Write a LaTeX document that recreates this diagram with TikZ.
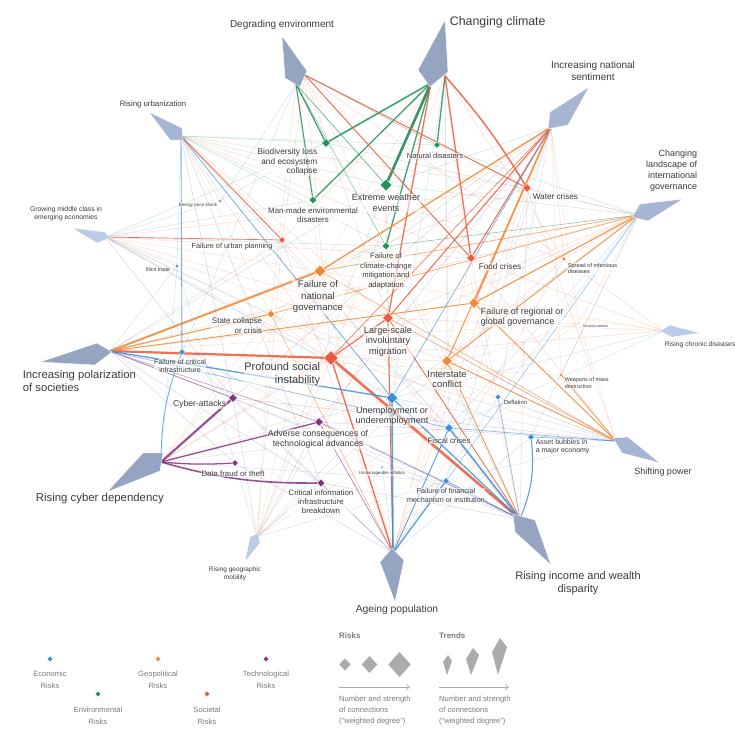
\documentclass[tikz,border=0pt]{standalone}
\usepackage{fontspec}
\setmainfont{Liberation Sans}
\usetikzlibrary{shapes.geometric,arrows.meta}
\definecolor{eco}{HTML}{3B8FD8}
\definecolor{env}{HTML}{22925A}
\definecolor{envd}{HTML}{1B7F4C}
\definecolor{geo}{HTML}{F08A38}
\definecolor{soc}{HTML}{EA5A3C}
\definecolor{tec}{HTML}{86337F}
\definecolor{trA}{HTML}{95A4C1}
\definecolor{trB}{HTML}{A5B5D2}
\definecolor{trC}{HTML}{B9CBE7}
\definecolor{txt}{HTML}{3C3C3C}
\definecolor{leg}{HTML}{7A7A7A}
\definecolor{legshape}{HTML}{ABABAB}
\pgfdeclarelayer{bg}
\pgfsetlayers{bg,main}
\newcommand\fsz[2]{\fontsize{#1}{#2}\selectfont}
\tikzset{
  risk/.style={diamond, draw=white, line width=0.4pt, inner sep=0pt, minimum size=#1},
  lbl/.style={text=txt, inner sep=0.6pt, fill=white, fill opacity=0.55, text opacity=1},
  kite/.style={draw=white, line width=0.4pt},
  legtxt/.style={text=leg, inner sep=0pt},
  fsoc/.style={soc, draw opacity=0.2, line width=0.6pt},
  fgeo/.style={geo, draw opacity=0.2, line width=0.6pt},
  feco/.style={eco, draw opacity=0.2, line width=0.6pt},
  fenv/.style={env, draw opacity=0.2, line width=0.6pt},
  ftec/.style={tec, draw opacity=0.2, line width=0.6pt},
  sl/.style={line width=#1, draw opacity=0.85, line cap=round},
}
\begin{document}
\begin{tikzpicture}[x=1pt,y=-1pt]
\useasboundingbox (0,0) rectangle (735,739);
% ---------- trend hubs ----------
\coordinate (DE) at (296,84);
\coordinate (DEr) at (305,75);
\coordinate (CC) at (431,83);
\coordinate (CCr) at (445,76);
\coordinate (NS) at (551,127);
\coordinate (CL) at (638,215);
\coordinate (RU) at (181,136);
\coordinate (GM) at (105,237);
\coordinate (IP) at (110,351);
\coordinate (CD) at (161,462);
\coordinate (GEO) at (257,537);
\coordinate (AP) at (393,553);
\coordinate (RI) at (520,519);
\coordinate (SP) at (616,441);
\coordinate (RC) at (664,331);
% ---------- risks ----------
\node[risk=9, fill=env] (BL) at (326,143) {};
\node[risk=7, fill=env] (ND) at (437,145) {};
\node[risk=12, fill=env] (EW) at (386,185) {};
\node[risk=8, fill=env] (MM) at (313,200) {};
\node[risk=3.5, fill=eco] (EPS) at (220,201) {};
\node[risk=9, fill=soc] (WC) at (527,188) {};
\node[risk=7, fill=soc] (FUP) at (282,240) {};
\node[risk=8, fill=env] (FC) at (386,246) {};
\node[risk=9, fill=soc] (FO) at (471,258) {};
\node[risk=4, fill=soc] (SID) at (564,259) {};
\node[risk=4, fill=eco] (IT) at (177,266) {};
\node[risk=12, fill=geo] (FNG) at (320,271) {};
\node[risk=11, fill=geo] (FR) at (474,303) {};
\node[risk=2.5, fill=geo] (TA) at (579,323) {};
\node[risk=8, fill=geo] (SC) at (271,314) {};
\node[risk=11, fill=soc] (LM) at (388,318) {};
\node[risk=7, fill=eco] (FCI) at (182,352) {};
\node[risk=15, fill=soc] (PSI) at (331,358) {};
\node[risk=11, fill=geo] (IC) at (447,361) {};
\node[risk=4, fill=geo] (WMD) at (561,375) {};
\node[risk=9, fill=tec] (CA) at (233,398) {};
\node[risk=12, fill=eco] (UE) at (392,398) {};
\node[risk=6, fill=eco] (DEF) at (498,397) {};
\node[risk=9, fill=tec] (AC) at (319,422) {};
\node[risk=9, fill=eco] (FI) at (449,428) {};
\node[risk=7, fill=eco] (AB) at (531,437) {};
\node[risk=7, fill=tec] (DF) at (235,463) {};
\node[risk=3, fill=eco] (UI) at (382,467) {};
\node[risk=8, fill=tec] (CI) at (321,483) {};
\node[risk=7, fill=eco] (FFM) at (446,481) {};
% ---------- connectors ----------
\begin{pgfonlayer}{bg}
% faint web
\foreach \a/\b in {DEr/FUP,DEr/LM,DEr/PSI,DEr/SID,CCr/PSI,CCr/SID,CC/FUP,NS/PSI,NS/WC,NS/SID,CL/WC,CL/FO,CL/LM,CL/PSI,CL/SID,RU/PSI,RU/LM,RU/WC,RU/FO,RU/SID,GM/PSI,GM/WC,GM/FO,GM/LM,IP/LM,IP/FO,IP/WC,IP/FUP,CD/PSI,CD/LM,GEO/PSI,GEO/LM,GEO/SID,GEO/FUP,AP/LM,AP/FO,AP/WC,AP/SID,AP/FUP,RI/FO,RI/WC,RI/FUP,SP/PSI,SP/FO,SP/WC,RC/FO,RC/SID,RC/PSI,RC/LM}
  \draw[fsoc] (\a) -- (\b);
\foreach \a/\b in {DE/FNG,DE/SC,DEr/IC,CC/FNG,CCr/FR,CCr/IC,NS/SC,NS/WMD,NS/TA,CL/FNG,CL/SC,CL/WMD,CL/TA,RU/FNG,RU/SC,GM/FNG,GM/SC,GM/IC,IP/IC,IP/TA,IP/WMD,CD/FNG,CD/SC,CD/TA,GEO/FNG,GEO/SC,GEO/TA,AP/FNG,AP/FR,AP/IC,RI/FNG,RI/FR,RI/SC,SP/SC,SP/TA,RC/FR,RC/FNG}
  \draw[fgeo] (\a) -- (\b);
\foreach \a/\b in {RU/EPS,RU/IT,RU/FI,GM/UE,GM/FI,GM/AB,GM/EPS,GM/IT,IP/FFM,IP/IT,CD/UE,CD/FFM,CD/FI,CD/IT,GEO/UE,GEO/FFM,GEO/IT,AP/DEF,AP/AB,AP/UI,AP/FCI,RI/UI,RI/FCI,SP/UE,SP/DEF,SP/FFM,CL/DEF,CL/FI,CL/AB,CL/UE,NS/FI,NS/FFM,NS/DEF,RC/UE,RC/FI,CCr/UE,CCr/FI,CC/EPS,DE/EPS,DE/FCI}
  \draw[feco] (\a) -- (\b);
\foreach \a/\b in {RU/BL,RU/MM,RU/EW,RU/FC,RU/ND,GM/BL,GM/MM,GM/FC,IP/FC,IP/EW,CL/EW,CL/ND,CL/BL,NS/FC,NS/EW,AP/FC,AP/EW,RI/FC,GEO/EW}
  \draw[fenv] (\a) -- (\b);
\foreach \a/\b in {AP/CA,AP/CI,AP/DF,RI/CA,RI/CI,IP/DF,IP/CI,GEO/CI,GEO/AC,GEO/CA,SP/AC,SP/CA,NS/CA,NS/AC,RU/CA,RU/CI,GM/CA}
  \draw[ftec] (\a) -- (\b);
% environmental
\draw[envd, sl=2.6] (CC) -- (EW);
\draw[env, sl=1.6] (CC) -- (BL);
\draw[env, sl=1.3] (CC) -- (MM);
\draw[env, sl=1.3] (CCr) -- (ND);
\draw[env, sl=1.3] (CC) -- (FC);
\draw[env, sl=1.3] (DE) -- (BL);
\draw[env, sl=1.1] (DE) -- (MM);
\draw[env, sl=0.9, draw opacity=0.55] (DE) -- (EW);
\draw[env, sl=0.7, draw opacity=0.45] (DE) -- (FC);
\draw[env, sl=0.6, draw opacity=0.4] (DEr) -- (ND);
\draw[env, sl=0.7, draw opacity=0.45] (CL) -- (FC);
% societal
\draw[soc, sl=1.5] (CCr) to[bend left=5] (WC);
\draw[soc, sl=1.3] (CCr) -- (FO);
\draw[soc, sl=1.3] (CC) -- (LM);
\draw[soc, sl=1.0] (DEr) -- (WC);
\draw[soc, sl=1.0] (DEr) -- (FO);
\draw[soc, sl=1.1] (NS) -- (FO);
\draw[soc, sl=1.1] (NS) -- (LM);
\draw[soc, sl=0.8, draw opacity=0.6] (NS) -- (PSI);
\draw[soc, sl=2.2] (IP) -- (PSI);
\draw[soc, sl=2.6] (PSI) -- (RI);
\draw[soc, sl=1.4] (AP) -- (PSI);
\draw[soc, sl=1.0] (AP) -- (LM);
\draw[soc, sl=1.2] (PSI) -- (LM);
\draw[soc, sl=0.9] (RU) -- (FUP);
\draw[soc, sl=0.7] (GM) -- (FUP);
\draw[soc, sl=0.9] (LM) -- (RI);
\draw[soc, sl=0.6, draw opacity=0.6] (SP) -- (LM);
% geopolitical
\draw[geo, sl=2.0] (IP) -- (FNG);
\draw[geo, sl=1.1] (IP) -- (SC);
\draw[geo, sl=1.0] (IP) -- (FR);
\draw[geo, sl=1.4] (NS) -- (FNG);
\draw[geo, sl=1.4] (NS) -- (FR);
\draw[geo, sl=1.1] (NS) -- (IC);
\draw[geo, sl=1.2] (CL) -- (FR);
\draw[geo, sl=1.0] (CL) -- (IC);
\draw[geo, sl=0.8, draw opacity=0.6] (CL) -- (SC);
\draw[geo, sl=0.8, draw opacity=0.6] (CL) -- (FNG);
\draw[geo, sl=1.0] (SP) -- (IC);
\draw[geo, sl=1.0] (SP) -- (FR);
\draw[geo, sl=0.8] (SP) -- (WMD);
\draw[geo, sl=0.7, draw opacity=0.6] (SP) -- (FNG);
\draw[geo, sl=0.9] (RI) -- (IC);
\draw[geo, sl=0.6, draw opacity=0.6] (AP) -- (SC);
% technological
\draw[tec, sl=2.2] (CD) -- (CA);
\draw[tec, sl=1.3] (CD) -- (AC);
\draw[tec, sl=1.3] (CD) to[bend right=4] (DF);
\draw[tec, sl=1.6] (CD) to[bend right=8] (CI);
\draw[tec, sl=0.7, draw opacity=0.6] (IP) -- (CA);
\draw[tec, sl=0.6, draw opacity=0.5] (IP) -- (AC);
\draw[tec, sl=0.7, draw opacity=0.6] (RI) -- (AC);
\draw[tec, sl=0.7, draw opacity=0.6] (AP) -- (AC);
% economic
\draw[eco, sl=1.3] (IP) -- (UE);
\draw[eco, sl=0.7, draw opacity=0.6] (IP) -- (FI);
\draw[eco, sl=0.9, draw opacity=0.7] (RU) -- (FCI);
\draw[eco, sl=0.8, draw opacity=0.7] (RU) -- (UE);
\draw[eco, sl=0.9, draw opacity=0.7] (CD) to[bend left=10] (FCI);
\draw[eco, sl=1.6] (AP) -- (UE);
\draw[eco, sl=1.3] (AP) -- (FFM);
\draw[eco, sl=0.9] (AP) -- (FI);
\draw[eco, sl=1.6] (RI) -- (FI);
\draw[eco, sl=1.2] (RI) -- (UE);
\draw[eco, sl=1.1] (RI) to[bend right=14] (AB);
\draw[eco, sl=0.8] (RI) -- (FFM);
\draw[eco, sl=0.6, draw opacity=0.6] (RI) -- (DEF);
\draw[eco, sl=0.7, draw opacity=0.6] (SP) -- (AB);
\draw[eco, sl=0.7, draw opacity=0.6] (SP) -- (FI);
\draw[eco, sl=0.8, draw opacity=0.6] (NS) -- (UE);
\draw[eco, sl=0.6, draw opacity=0.5] (CL) -- (FFM);
\end{pgfonlayer}
% ---------- trend kites ----------
\fill[trA, kite] (282,36) -- (307,71) -- (300,87) -- (285,78) -- cycle;
\fill[trA, kite] (445,20) -- (448,72) -- (430,87) -- (418,70) -- cycle;
\fill[trB, kite] (589,87) -- (568,125) -- (548,129) -- (550,112) -- cycle;
\fill[trB, kite] (683,199) -- (648,221) -- (632,217) -- (640,204) -- cycle;
\fill[trB, kite] (149,112) -- (182,128) -- (183,140) -- (170,140) -- cycle;
\fill[trC, kite] (72,228) -- (105,232) -- (110,238) -- (97,243) -- cycle;
\fill[trA, kite] (40,362) -- (97,343) -- (112,352) -- (95,365) -- cycle;
\fill[trA, kite] (107,492) -- (143,453) -- (163,453) -- (160,471) -- cycle;
\fill[trC, kite] (258,533) -- (260,543) -- (245,562) -- (250,537) -- cycle;
\fill[trA, kite] (380,562) -- (392,548) -- (404,560) -- (395,602) -- cycle;
\fill[trA, kite] (513,514) -- (535,520) -- (551,565) -- (515,532) -- cycle;
\fill[trB, kite] (613,438) -- (628,437) -- (660,463) -- (622,453) -- cycle;
\fill[trC, kite] (660,331) -- (670,325) -- (700,333) -- (672,337) -- cycle;
% ---------- trend labels ----------
\node[lbl, font=\fsz{10}{12}] (tDE) at (282,25) {Degrading environment};
\node[lbl, font=\fsz{12.4}{14}, anchor=west] (tCC) at (449,22) {Changing climate};
\node[lbl, font=\fsz{10}{12}, align=center] (tNS) at (593,71) {Increasing national\\sentiment};
\node[lbl, font=\fsz{9}{10.9}, align=right, anchor=east] (tCL) at (698,171) {Changing\\landscape of\\international\\governance};
\node[lbl, font=\fsz{7.8}{9}] (tRU) at (153,104) {Rising urbanization};
\node[lbl, font=\fsz{6.8}{8.2}, align=center] (tGM) at (66,214) {Growing middle class in\\emerging economies};
\node[lbl, font=\fsz{11.3}{12.2}, align=left, anchor=west] (tIP) at (22,381) {Increasing polarization\\of societies};
\node[lbl, font=\fsz{11.4}{13}, anchor=west] (tCD) at (35,499) {Rising cyber dependency};
\node[lbl, font=\fsz{6.5}{7.8}, align=center] (tGEO) at (235,574) {Rising geographic\\mobility};
\node[lbl, font=\fsz{10.3}{12}] (tAP) at (397,610) {Ageing population};
\node[lbl, font=\fsz{11}{12.8}, align=center] (tRI) at (578,583) {Rising income and wealth\\disparity};
\node[lbl, font=\fsz{9}{11}] (tSP) at (663,472) {Shifting power};
\node[lbl, font=\fsz{6.7}{8}] (tRC) at (700,345) {Rising chronic diseases};
% ---------- risk labels ----------
\node[lbl, font=\fsz{8.3}{9.8}, align=right, anchor=east] (lBL) at (318,162) {Biodiversity loss\\and ecosystem\\collapse};
\node[lbl, font=\fsz{7.5}{9}] (lND) at (435,156) {Natural disasters};
\node[lbl, font=\fsz{9}{10.5}, align=center] (lEW) at (386,203) {Extreme weather\\events};
\node[lbl, font=\fsz{7.9}{8.8}, align=center] (lMM) at (313,215) {Man-made environmental\\disasters};
\node[lbl, font=\fsz{8.2}{9.5}, anchor=west] (lWC) at (532,197) {Water crises};
\node[lbl, font=\fsz{7.3}{9}] (lFUP) at (232,247) {Failure of urban planning};
\node[lbl, font=\fsz{7.6}{9.4}, align=center] (lFC) at (386,271) {Failure of\\climate-change\\mitigation and\\adaptation};
\node[lbl, font=\fsz{8.2}{9.5}, anchor=west] (lFO) at (478,267) {Food crises};
\node[lbl, font=\fsz{5.6}{6.8}, align=left, anchor=west] (lSID) at (567,268.5) {Spread of infectious\\diseases};
\node[lbl, font=\fsz{5.4}{6.5}, anchor=east] (lIT) at (171,270) {Illicit trade};
\node[lbl, font=\fsz{9.6}{11.5}, align=center] (lFNG) at (318,297) {Failure of\\national\\governance};
\node[lbl, font=\fsz{9}{10.5}, align=left, anchor=west] (lFR) at (480,317) {Failure of regional or\\global governance};
\node[lbl, font=\fsz{3.6}{4.5}, anchor=west] (lTA) at (582,326) {Terrorist attacks};
\node[lbl, font=\fsz{8}{9.8}, align=right, anchor=east] (lSC) at (263,326) {State collapse\\or crisis};
\node[lbl, font=\fsz{9.2}{10.5}, align=center] (lLM) at (388,341.5) {Large-scale\\involuntary\\migration};
\node[lbl, font=\fsz{7.1}{8.2}, align=center] (lFCI) at (180,366) {Failure of critical\\infrastructure};
\node[lbl, font=\fsz{11}{12.5}, align=right, anchor=east] (lPSI) at (321,374) {Profound social\\instability};
\node[lbl, font=\fsz{9.4}{10.5}, align=center] (lIC) at (447,379.5) {Interstate\\conflict};
\node[lbl, font=\fsz{5.5}{6.5}, align=left, anchor=west] (lWMD) at (564,383) {Weapons of mass\\destruction};
\node[lbl, font=\fsz{8.6}{10}, anchor=east] (lCA) at (227,404) {Cyber-attacks};
\node[lbl, font=\fsz{9.1}{10.3}, align=center] (lUE) at (392,416) {Unemployment or\\underemployment};
\node[lbl, font=\fsz{5.9}{7}, anchor=west] (lDEF) at (503,402) {Deflation};
\node[lbl, font=\fsz{8.7}{10}, align=center] (lAC) at (318,439) {Adverse consequences of\\technological advances};
\node[lbl, font=\fsz{7.8}{9}] (lFI) at (449,441) {Fiscal crises};
\node[lbl, font=\fsz{7}{8.3}, align=left, anchor=west] (lAB) at (535,447) {Asset bubbles in\\a major economy};
\node[lbl, font=\fsz{7.8}{9}] (lDF) at (233,474) {Data fraud or theft};
\node[lbl, font=\fsz{4.4}{5}] (lUI) at (382,473) {Unmanageable inflation};
\node[lbl, font=\fsz{7.8}{9}, align=center] (lCI) at (321,502) {Critical information\\infrastructure\\breakdown};
\node[lbl, font=\fsz{7.2}{8.6}, align=center] (lFFM) at (446,495.5) {Failure of financial\\mechanism or institution};
\node[lbl, font=\fsz{4.5}{5.5}] (lEPS) at (198,205) {Energy price shock};
% ---------- legend ----------
\node[risk=6, fill=eco] (kEco) at (50,659) {};
\node[legtxt, font=\fsz{7.6}{12}, align=center] (kEcoT) at (50,680) {Economic\\Risks};
\node[risk=6, fill=env] (kEnv) at (98,694) {};
\node[legtxt, font=\fsz{7.6}{12}, align=center] (kEnvT) at (98,716) {Environmental\\Risks};
\node[risk=6, fill=geo] (kGeo) at (158,659) {};
\node[legtxt, font=\fsz{7.6}{12}, align=center] (kGeoT) at (158,680) {Geopolitical\\Risks};
\node[risk=6, fill=soc] (kSoc) at (207,694) {};
\node[legtxt, font=\fsz{7.6}{12}, align=center] (kSocT) at (207,716) {Societal\\Risks};
\node[risk=6, fill=tec] (kTec) at (266,659) {};
\node[legtxt, font=\fsz{7.6}{12}, align=center] (kTecT) at (266,680) {Technological\\Risks};
\node[legtxt, font=\fsz{8}{10}\bfseries, anchor=west, text=leg] (kRisks) at (339,636) {Risks};
\node[legtxt, font=\fsz{8}{10}\bfseries, anchor=west, text=leg] (kTrends) at (439,636) {Trends};
\fill[legshape] (345,658.5) -- (350.7,664.5) -- (345,670.5) -- (339.3,664.5) -- cycle;
\fill[legshape] (369.5,656) -- (377.3,664.5) -- (369.5,673) -- (361.7,664.5) -- cycle;
\fill[legshape] (399.5,652) -- (410.7,664.5) -- (399.5,677) -- (388.3,664.5) -- cycle;
\fill[legshape] (448,655) -- (452,661) -- (447,675) -- (443,662) -- cycle;
\fill[legshape] (473,648) -- (479,655) -- (471,675) -- (466,659) -- cycle;
\fill[legshape] (500,638) -- (507,647) -- (498,675) -- (492,652) -- cycle;
\coordinate (ar1a) at (339,687); \coordinate (ar1b) at (410,687);
\coordinate (ar2a) at (439,687); \coordinate (ar2b) at (509,687);
\draw[legshape, line width=0.7pt, -{Straight Barb[length=3pt,width=5pt]}] (ar1a) -- (ar1b);
\draw[legshape, line width=0.7pt, -{Straight Barb[length=3pt,width=5pt]}] (ar2a) -- (ar2b);
\node[legtxt, font=\fsz{7.6}{11}, align=left, anchor=north west] (kN1) at (339,696) {Number and strength\\of connections\\(“weighted degree”)};
\node[legtxt, font=\fsz{7.6}{11}, align=left, anchor=north west] (kN2) at (439,696) {Number and strength\\of connections\\(“weighted degree”)};
\end{tikzpicture}
\end{document}
